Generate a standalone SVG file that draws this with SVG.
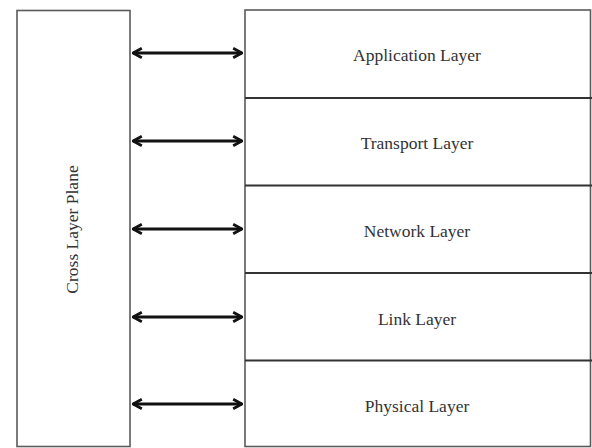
<svg xmlns="http://www.w3.org/2000/svg" width="592" height="448" viewBox="0 0 592 448">
<defs>
<style>
.box{fill:#fff;stroke:#5a5a5a;stroke-width:1.6}
.div{stroke:#333;stroke-width:2;fill:none}
.lbl{font-family:"Liberation Serif","Times New Roman",serif;font-size:17.5px;fill:#333;text-anchor:middle}
.arr{stroke:#111;stroke-width:2.8;fill:none;marker-start:url(#ah);marker-end:url(#ah)}
</style>
<marker id="ah" viewBox="0 0 10 10" refX="9" refY="5" markerWidth="4.2" markerHeight="4.8" orient="auto-start-reverse" markerUnits="strokeWidth">
<path d="M1.5,1 L9,5 L1.5,9" fill="none" stroke="#111" stroke-width="2.4" stroke-linejoin="miter"/>
</marker>
</defs>
<rect width="592" height="448" fill="#fff"/>
<g id="cross-layer-plane">
<rect class="box" x="17" y="10.5" width="113" height="436"/>
<text class="lbl" transform="translate(78,229.5) rotate(-90)">Cross Layer Plane</text>
</g>
<g id="stack">
<rect class="box" x="245" y="10" width="345.5" height="436.5"/>
</g>
<g id="application-layer">
<text class="lbl" x="417" y="61">Application Layer</text>
</g>
<g id="transport-layer">
<line class="div" x1="245" y1="98" x2="592" y2="98"/>
<text class="lbl" x="417" y="149">Transport Layer</text>
</g>
<g id="network-layer">
<line class="div" x1="245" y1="185.5" x2="592" y2="185.5"/>
<text class="lbl" x="417" y="237">Network Layer</text>
</g>
<g id="link-layer">
<line class="div" x1="245" y1="273" x2="592" y2="273"/>
<text class="lbl" x="417" y="325">Link Layer</text>
</g>
<g id="physical-layer">
<line class="div" x1="245" y1="360.5" x2="592" y2="360.5"/>
<text class="lbl" x="417" y="412">Physical Layer</text>
</g>
<g id="connectors">
<line class="arr" x1="133" y1="53" x2="242" y2="53"/>
<line class="arr" x1="133" y1="141" x2="242" y2="141"/>
<line class="arr" x1="133" y1="229" x2="242" y2="229"/>
<line class="arr" x1="133" y1="317" x2="242" y2="317"/>
<line class="arr" x1="133" y1="404" x2="242" y2="404"/>
</g>
</svg>
